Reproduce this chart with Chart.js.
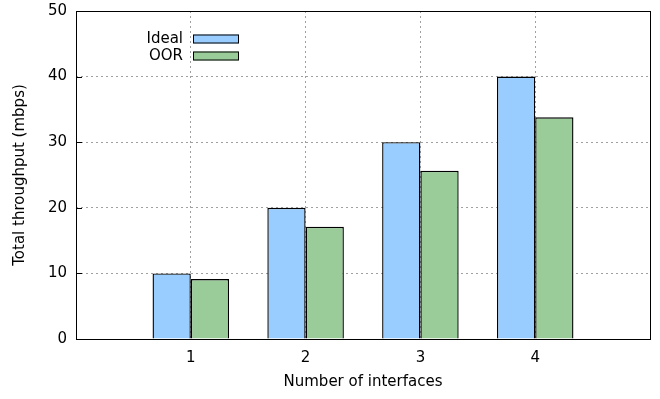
<!DOCTYPE html>
<html>
<head>
<meta charset="utf-8">
<script src="https://cdn.jsdelivr.net/npm/chart.js@4/dist/chart.umd.min.js"></script>
<style>
  html, body { margin: 0; padding: 0; background: #fff; }
  #wrap { width: 660px; height: 399px; }
</style>
</head>
<body>
<div id="wrap"><canvas id="chart" width="660" height="399"></canvas></div>
<script>
const categories = [1, 2, 3, 4];
const idealValues = [10, 20, 30, 40];
const oorValues = [9.15, 17.1, 25.65, 33.8];
const seriesNames = ['Ideal', 'OOR'];
const yTicks = [0, 10, 20, 30, 40, 50];

const FONT = { family: 'DejaVu Sans', size: 15 };

// box round the plot, inward tick marks and gnuplot style key
const framePlugin = {
  id: 'frame',
  afterDatasetsDraw(chart) {
    const { ctx, chartArea: a, scales } = chart;
    ctx.save();
    ctx.strokeStyle = '#000';
    ctx.lineWidth = 1;
    ctx.beginPath();
    scales.y.ticks.forEach(t => {
      const py = Math.round(scales.y.getPixelForValue(t.value)) + 0.5;
      ctx.moveTo(a.left, py);
      ctx.lineTo(a.left + 6, py);
    });
    ctx.stroke();
    ctx.strokeRect(Math.round(a.left) + 0.5, Math.round(a.top) + 0.5,
      Math.round(a.right - a.left), Math.round(a.bottom - a.top));

    // key
    ctx.font = FONT.size + 'px ' + FONT.family;
    ctx.textAlign = 'right';
    ctx.textBaseline = 'middle';
    chart.data.datasets.forEach((ds, i) => {
      const cy = 39 + i * 17;
      ctx.fillStyle = '#000';
      ctx.fillText(ds.label, 183, cy);
      ctx.fillStyle = ds.backgroundColor;
      ctx.fillRect(193, cy - 4.5, 46, 9);
      ctx.strokeRect(193.5, cy - 4, 45, 8);
    });
    ctx.restore();
  }
};

new Chart(document.getElementById('chart'), {
  type: 'bar',
  data: {
    datasets: [
      {
        label: seriesNames[0],
        data: categories.map((c, i) => ({ x: c, y: idealValues[i] })),
        backgroundColor: '#99ccff',
        borderColor: '#000',
        borderWidth: 1.4,
        inflateAmount: 0
      },
      {
        label: seriesNames[1],
        data: categories.map((c, i) => ({ x: c, y: oorValues[i] })),
        backgroundColor: '#99cc99',
        borderColor: '#000',
        borderWidth: 1.4,
        inflateAmount: 0
      }
    ]
  },
  options: {
    responsive: false,
    animation: false,
    categoryPercentage: 2 / 3,
    barPercentage: 1,
    layout: { padding: { top: 11, right: 10, left: 11, bottom: 8 } },
    plugins: {
      legend: { display: false },
      tooltip: { enabled: false }
    },
    scales: {
      x: {
        type: 'linear',
        min: 0,
        max: 5,
        offset: false,
        afterFit(scale) { scale.height = 52; scale.paddingLeft = 0; scale.paddingRight = 0; },
        ticks: {
          stepSize: 1,
          padding: 10,
          color: '#000',
          font: FONT,
          callback: v => categories.includes(v) ? String(v) : null
        },
        grid: { offset: false, color: '#a0a0a0', lineWidth: 1, drawTicks: false },
        border: { display: false, dash: [2, 3] },
        title: { display: true, text: 'Number of interfaces', color: '#000', font: FONT, padding: 0 }
      },
      y: {
        min: 0,
        max: 50,
        afterFit(scale) { scale.width = 65; scale.paddingTop = 0; scale.paddingBottom = 0; },
        afterBuildTicks(scale) { scale.ticks = yTicks.map(v => ({ value: v })); },
        ticks: { padding: 9, color: '#000', font: FONT },
        grid: {
          color: ctx => (ctx.tick && (ctx.tick.value === 0 || ctx.tick.value === 50)) ? 'rgba(0,0,0,0)' : '#a0a0a0',
          lineWidth: 1,
          drawTicks: false
        },
        border: { display: false, dash: [2, 3] },
        title: { display: true, text: 'Total throughput (mbps)', color: '#000', font: FONT, padding: 0 }
      }
    }
  },
  plugins: [framePlugin]
});
</script>
</body>
</html>
